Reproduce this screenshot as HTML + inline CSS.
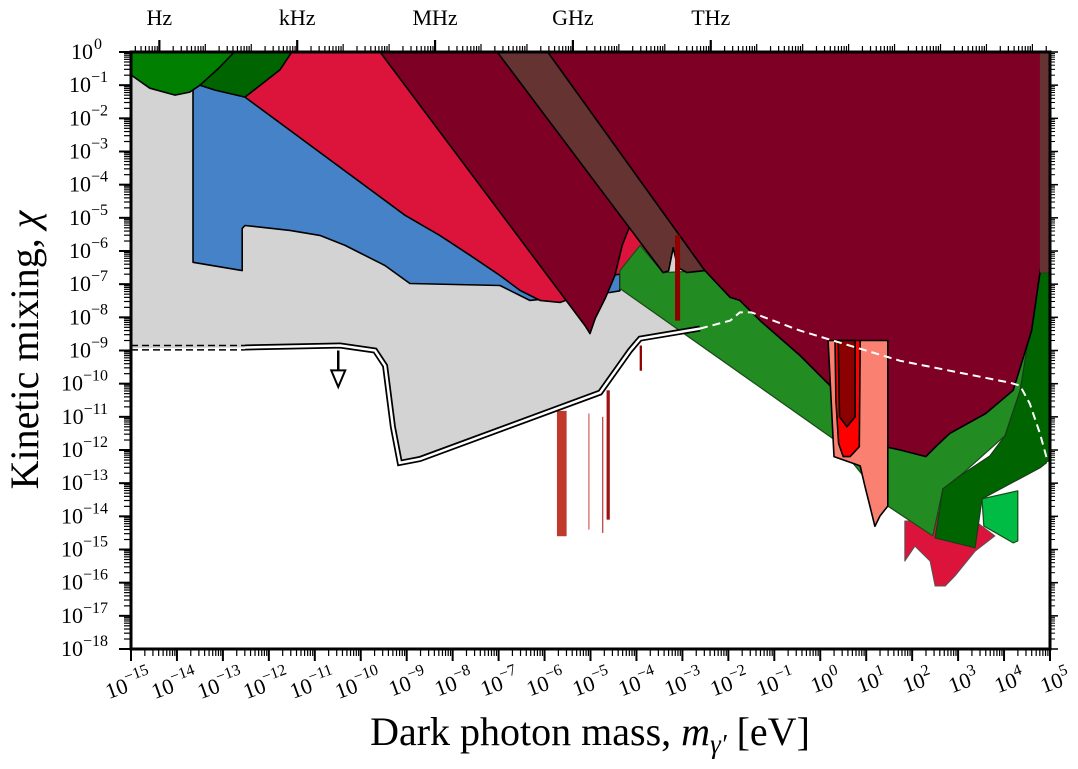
<!DOCTYPE html>
<html><head><meta charset="utf-8"><style>
body{margin:0;background:#fff;}
svg{display:block;font-family:"Liberation Serif",serif;}
</style></head><body>
<svg id="chart" width="1078" height="769" viewBox="0 0 1078 769" xmlns="http://www.w3.org/2000/svg">
<g id="regions"></g>
<g id="axes"></g>
</svg>
<script>
const xTicks=[-15,-14,-13,-12,-11,-10,-9,-8,-7,-6,-5,-4,-3,-2,-1,0,1,2,3,4,5];
const yTicks=[0,-1,-2,-3,-4,-5,-6,-7,-8,-9,-10,-11,-12,-13,-14,-15,-16,-17,-18];
const freqLabels=["Hz","kHz","MHz","GHz","THz"];
const freqLogHz=[0,3,6,9,12];
const grayRegion=[[-15,0],[-2.62,0],[-2.62,-8.34],[-3.92,-8.64],[-4.14,-9.0],[-4.79,-10.27],[-8.71,-12.27],[-9.15,-12.39],[-9.3,-11.3],[-9.47,-9.46],[-9.69,-9.0],[-10.45,-8.85],[-12.52,-8.91],[-15,-8.93]];
const blueRegion=[[-13.65,-1.0],[-3.92,-1.0],[-3.92,-6.6],[-4.36,-6.7],[-4.36,-7.2],[-4.58,-7.25],[-6.32,-7.49],[-6.97,-7.04],[-8.93,-6.98],[-9.47,-6.44],[-10.34,-5.83],[-10.89,-5.53],[-11.54,-5.38],[-12.52,-5.23],[-12.58,-5.32],[-12.58,-6.59],[-13.65,-6.34]];
const crimsonRegion=[[-12.52,-1.36],[-11.54,0],[-3.5,0],[-3.5,-6.0],[-3.92,-6.45],[-4.36,-6.7],[-4.58,-6.74],[-5.23,-7.34],[-5.66,-7.55],[-6.10,-7.49],[-6.53,-7.19],[-6.97,-6.74],[-7.62,-6.13],[-8.28,-5.53],[-9.04,-4.92]];
const greenA=[[-15,0],[-15,-0.69],[-14.59,-1.09],[-14.04,-1.30],[-13.72,-1.21],[-13.28,-0.8],[-12.75,0]];
const greenB=[[-13.50,-1.0],[-13.17,-1.15],[-12.52,-1.36],[-11.76,-0.54],[-11.50,0],[-12.75,0],[-13.1,-0.5]];
const forestGreen=[[-4.36,-6.59],[-3.92,-5.83],[-3.42,-6.65],[-2.51,-6.59],[-1.75,-7.49],[0.21,-9.46],[4.78,-6.59],[4.78,-9],[4.35,-10.21],[4.02,-11.57],[3.04,-12.78],[2.67,-13.17],[2.45,-14.59],[1.47,-13.69],[0.28,-11.66],[-4.36,-7.13]];
const darkGreen=[[2.67,-13.17],[3.04,-12.78],[3.69,-12.18],[4.02,-11.57],[4.35,-10.21],[4.56,-8.40],[4.78,-6.65],[5,-6.65],[5,-12.3],[4.78,-12.54],[3.52,-13.47],[3.37,-14.95],[2.50,-14.65]];
const brightGreen=[[3.52,-13.47],[4.30,-13.23],[4.30,-14.74],[4.2,-14.8],[3.56,-14.29]];
const maroonLeft=[[-9.58,0],[-7.03,0],[-4.14,-5.23],[-4.31,-5.83],[-4.47,-6.74],[-4.68,-7.43],[-4.90,-8.04],[-5.01,-8.49],[-5.12,-8.25]];
const brownBand=[[-7.03,0],[-5.93,0],[-2.51,-6.59],[-2.9,-6.65],[-3.1,-6.5],[-3.2,-5.9],[-3.3,-6.6],[-3.42,-6.65]];
const maroonRight=[[-5.93,0],[5,0],[5,-2.96],[4.93,-2.96],[4.85,-6.0],[4.6,-8.4],[4.2,-10.2],[3.6,-10.9],[2.82,-11.5],[2.55,-11.85],[2.3,-12.2],[1.74,-12.0],[1.30,-11.87],[0.87,-11.12],[0.32,-10.21],[-0.44,-9.15],[-1.31,-8.10],[-1.75,-7.49],[-1.96,-7.40],[-2.51,-6.59]];
const brownRight=[[4.78,0],[5,0],[5,-6.65],[4.78,-6.65]];
const salmonRegion=[[0.17,-8.7],[1.47,-8.7],[1.47,-13.69],[1.30,-13.99],[1.19,-14.3],[1.08,-13.69],[0.97,-13.08],[0.87,-12.48],[0.3,-12.2]];
const redRegion=[[0.32,-8.7],[0.87,-8.7],[0.85,-11.9],[0.65,-12.2],[0.5,-12.2],[0.40,-11.8],[0.34,-10.5]];
const innerMaroon=[[0.39,-8.7],[0.76,-8.7],[0.76,-11.0],[0.58,-11.3],[0.42,-11.0]];
const crimsonBlobs=[[1.84,-14.14],[2.28,-14.14],[2.61,-13.84],[3.37,-14.14],[3.80,-14.59],[3.37,-15.05],[2.93,-15.8],[2.72,-16.10],[2.50,-16.10],[2.39,-15.35],[2.06,-14.9],[1.84,-15.35]];
const bars=[[-5.73,-5.52,-10.82,-14.6,"#c0392b"],[-5.05,-5.02,-10.9,-14.4,"#e07070"],[-4.75,-4.72,-11.0,-14.5,"#c05050"],[-4.65,-4.58,-10.2,-14.1,"#a01010"],[-3.16,-3.05,-5.53,-8.10,"#900000"],[-3.93,-3.88,-8.85,-9.61,"#900000"]];
const boundary=[[-12.52,-8.91],[-10.45,-8.85],[-9.69,-9.0],[-9.47,-9.46],[-9.3,-11.3],[-9.15,-12.39],[-8.71,-12.27],[-4.79,-10.27],[-4.14,-9.0],[-3.92,-8.64],[-2.62,-8.34]];
const dashedLine=[[-2.62,-8.34],[-1.96,-8.10],[-1.75,-7.85],[-1.5,-7.85],[-0.44,-8.4],[1.74,-9.31],[4.13,-9.97],[4.35,-10.06],[4.56,-10.6],[4.78,-11.5],[5,-12.6]];

const X0=131,X1=1050,Y0=52,Y1=649;
const sx=v=>X0+(v+15)*(X1-X0)/20;
const sy=v=>Y0-v*(Y1-Y0)/18;
const NS="http://www.w3.org/2000/svg";
const R=document.getElementById('regions'),A=document.getElementById('axes');
function mk(tag,attrs,parent){const e=document.createElementNS(NS,tag);for(const k in attrs)e.setAttribute(k,attrs[k]);parent.appendChild(e);return e;}
const pts=a=>a.map(p=>sx(p[0]).toFixed(1)+','+sy(p[1]).toFixed(1)).join(' ');
function poly(data,fill,name,stroke,sw){const e=mk('polygon',{points:pts(data),fill:fill,stroke:stroke||'#000','stroke-width':sw||1.6,'stroke-linejoin':'round'},R);

return e;}
const clip=mk('clipPath',{id:'pc'},mk('defs',{},R));mk('rect',{x:X0,y:Y0,width:X1-X0,height:Y1-Y0},clip);
R.setAttribute('clip-path','url(#pc)');
poly(grayRegion,'#d3d3d3','gray-region','none');
poly(blueRegion,'#4682c8','blue-region');
poly(crimsonRegion,'#dc143c','crimson-region');
poly(greenA,'#007f00','green-region-a');
poly(greenB,'#006400','green-region-b');
poly(crimsonBlobs,'#dc143c','crimson-blobs','#555',1);
poly(forestGreen,'#228b22','forest-green-region','#1a4a1a',1.2);
poly(brightGreen,'#00bb44','bright-green-region','#1a4a1a',1.2);
poly(darkGreen,'#006400','dark-green-region','#1a3a1a',1.2);
poly(maroonLeft,'#7f0025','maroon-left-region');
poly(brownBand,'#663333','brown-band');
poly(maroonRight,'#7f0025','maroon-right-region');
poly(brownRight,'#663333','brown-right-band','none');
poly(salmonRegion,'#fa8072','salmon-region');
poly(redRegion,'#ff0000','red-region');
poly(innerMaroon,'#8b0000','inner-maroon-region');
bars.forEach(b=>{const e=mk('rect',{x:sx(b[0]),y:sy(b[2]),width:Math.max(1,sx(b[1])-sx(b[0])),height:sy(b[3])-sy(b[2]),fill:b[4]},R);

});
const bl1=mk('polyline',{points:pts(boundary),fill:'none',stroke:'#000','stroke-width':6},R);


const bl2=mk('polyline',{points:pts(boundary),fill:'none',stroke:'#fff','stroke-width':2.5},R);


[-8.85,-8.98].forEach(v=>{const e=mk('line',{x1:X0,x2:sx(-12.52),y1:sy(v),y2:sy(v),stroke:'#000','stroke-width':1.5,'stroke-dasharray':'7,4'},R);

});
const dl=mk('polyline',{points:pts(dashedLine),fill:'none',stroke:'#fff','stroke-width':2,'stroke-dasharray':'8,5'},R);


const ar=mk('line',{x1:sx(-10.49),x2:sx(-10.49),y1:sy(-9.0),y2:sy(-9.75),stroke:'#000','stroke-width':2.5},R);


const ah=mk('polygon',{points:`${sx(-10.49)-7},${sy(-9.6)} ${sx(-10.49)+7},${sy(-9.6)} ${sx(-10.49)},${sy(-10.1)}`,fill:'#fff',stroke:'#000','stroke-width':2},R);



const fr=mk('rect',{x:X0,y:Y0,width:X1-X0,height:Y1-Y0,fill:'none',stroke:'#000','stroke-width':3},A);


const L=Math.log10;
xTicks.forEach((t,i)=>{
 mk('line',{x1:sx(t),x2:sx(t),y1:Y1,y2:Y1+12,stroke:'#000','stroke-width':2},A);
 if(i<xTicks.length-1)for(let k=2;k<10;k++){const xx=sx(t+L(k));mk('line',{x1:xx,x2:xx,y1:Y1,y2:Y1+7,stroke:'#000','stroke-width':1.2},A);}
 const ax=sx(t)+22,ay=683;
 const lb=mk('text',{x:ax,y:ay,'font-size':22,'text-anchor':'end',transform:`rotate(-20 ${ax} ${ay})`},A);
 
 
 lb.textContent='10';const sp=mk('tspan',{dy:-10,'font-size':16},lb);sp.textContent=t===0?'0':(t<0?'\u2212'+(-t):String(t));
});
yTicks.forEach((t,i)=>{
 mk('line',{x1:X0,x2:X0-12,y1:sy(t),y2:sy(t),stroke:'#000','stroke-width':2},A);
 mk('line',{x1:X1,x2:X1+8,y1:sy(t),y2:sy(t),stroke:'#000','stroke-width':1.5},A);
 if(i<yTicks.length-1)for(let k=2;k<10;k++){const yy=sy(t-1+L(k));mk('line',{x1:X0,x2:X0-7,y1:yy,y2:yy,stroke:'#000','stroke-width':1.2},A);mk('line',{x1:X1,x2:X1+5,y1:yy,y2:yy,stroke:'#000','stroke-width':1},A);}
 const lb=mk('text',{x:108,y:sy(t)+7,'font-size':22,'text-anchor':'end'},A);
 
 
 lb.textContent='10';const sp=mk('tspan',{dy:-10,'font-size':16},lb);sp.textContent=t===0?'0':'\u2212'+(-t);
 if(t===0){lb.setAttribute('x',102);sp.setAttribute('dx','1');}
});
const hlog=-14.383;
for(let d=-1;d<=19;d++){for(let k=1;k<10;k++){const m=hlog+d+L(k);if(m<-15||m>5)continue;const xx=sx(m);mk('line',{x1:xx,x2:xx,y1:Y0,y2:Y0-(k===1?8:6),stroke:'#000','stroke-width':1.2},A);}}
freqLabels.forEach((f,i)=>{const xx=sx(hlog+freqLogHz[i]);mk('line',{x1:xx,x2:xx,y1:Y0,y2:Y0-12,stroke:'#000','stroke-width':2.2},A);
 const t=mk('text',{x:xx,y:25,'font-size':22,'text-anchor':'middle'},A);
 
 t.textContent=f;});
const xt=mk('text',{x:590,y:745,'font-size':40,'text-anchor':'middle'},A);


xt.innerHTML='Dark photon mass, <tspan font-style="italic">m</tspan><tspan font-style="italic" font-size="27" dy="8">γ′</tspan><tspan dy="-8"> [eV]</tspan>';
const yt=mk('text',{x:38,y:350,'font-size':40,'text-anchor':'middle',transform:'rotate(-90 38 350)'},A);


yt.innerHTML='Kinetic mixing, <tspan font-style="italic">χ</tspan>';
</script>
</body></html>
